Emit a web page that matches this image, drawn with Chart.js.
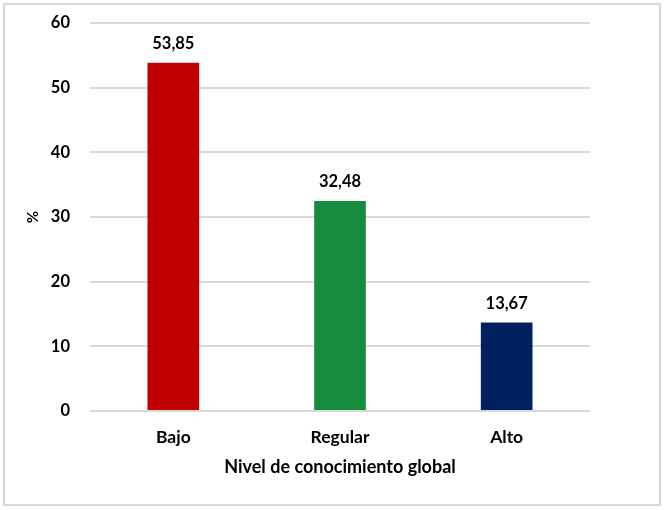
<!DOCTYPE html>
<html><head><meta charset="utf-8">
<script src="https://cdn.jsdelivr.net/npm/chart.js@4/dist/chart.umd.min.js"></script>
<style>
html,body{margin:0;padding:0;background:#fff;}
#wrap{position:relative;width:666px;height:510px;}
#frame{position:absolute;left:3px;top:3px;width:654px;height:499px;border:2px solid #d9d9d9;box-sizing:content-box;}
#c{position:absolute;left:0;top:0;}
</style></head>
<body>
<div id="wrap"><div id="frame"></div><canvas id="c" width="666" height="510"></canvas></div>
<script>
const categories = ["Bajo", "Regular", "Alto"];
const values = [53.85, 32.48, 13.67];
const valueLabels = ["53,85", "32,48", "13,67"];
const barColors = ["#C00000", "#168C3C", "#002060"];
const yTicks = [0, 10, 20, 30, 40, 50, 60];
const xTitle = "Nivel de conocimiento global";
const yTitle = "%";

const FONT = "Lato, Calibri, 'Open Sans', sans-serif";

const labelPlugin = {
  id: 'valueLabels',
  afterDatasetsDraw(chart) {
    const ctx = chart.ctx;
    const meta = chart.getDatasetMeta(0);
    ctx.save();
    ctx.font = "bold 16.5px " + FONT;
    ctx.fillStyle = "#000";
    ctx.textAlign = "center";
    ctx.textBaseline = "middle";
    meta.data.forEach((bar, i) => {
      ctx.fillText(valueLabels[i], bar.x, bar.y - 19);
    });
    ctx.restore();
  }
};

new Chart(document.getElementById('c'), {
  type: 'bar',
  data: {
    labels: categories,
    datasets: [{
      data: values,
      backgroundColor: barColors,
      borderWidth: 0,
      categoryPercentage: 1,
      barPercentage: 0.31
    }]
  },
  options: {
    responsive: false,
    animation: false,
    devicePixelRatio: 1,
    layout: { padding: { top: 23, right: 76, left: 0, bottom: 0 } },
    plugins: { legend: { display: false }, tooltip: { enabled: false } },
    scales: {
      x: {
        grid: { display: false, drawTicks: false },
        border: { display: false },
        ticks: { color: "#000", font: { family: FONT, size: 17.5, weight: 'bold' }, padding: 16 },
        title: { display: true, text: xTitle, color: "#000", font: { family: FONT, size: 18, weight: 'bold' }, padding: { top: 4, bottom: 32 } },
        afterFit(s) { s.height = 99; s.paddingLeft = 0; s.paddingRight = 0; }
      },
      y: {
        min: 0, max: 60,
        afterBuildTicks(s) { s.ticks = yTicks.map(v => ({ value: v })); },
        grid: { color: "#d9d9d9", lineWidth: 2, drawTicks: false },
        border: { display: false },
        ticks: { color: "#000", font: { family: FONT, size: 16.5, weight: 'bold' }, padding: 20 },
        title: { display: true, text: yTitle, color: "#000", font: { family: FONT, size: 15, weight: 'bold' }, padding: { top: 24, bottom: 0 } },
        afterFit(s) { s.width = 90; s.paddingTop = 0; s.paddingBottom = 0; }
      }
    }
  },
  plugins: [labelPlugin]
});
</script>
</body></html>
